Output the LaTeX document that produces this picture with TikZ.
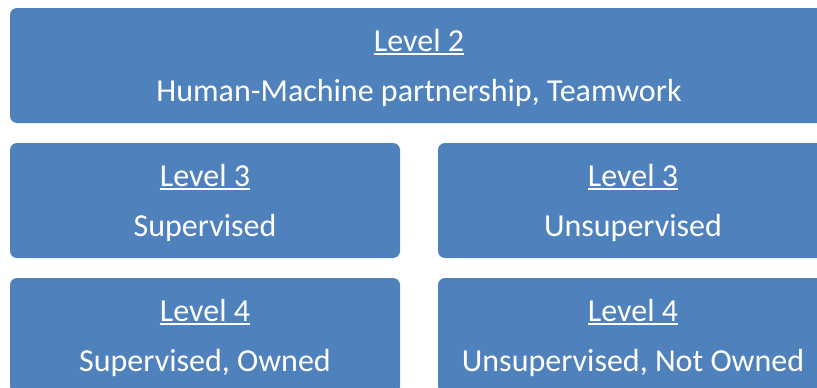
\documentclass[tikz,border=0pt]{standalone}
\usepackage{fontspec}
\setmainfont{Carlito}
\usepackage{xcolor}
\usepackage{tikz}
\definecolor{boxblue}{HTML}{4F81BD}
\newcommand{\lvl}[1]{\setbox0\hbox{#1}\rule{0pt}{27pt}\rlap{\rule[-4pt]{\wd0}{2pt}}\box0}

\begin{document}
\begin{tikzpicture}[x=1pt, y=-1pt]
\useasboundingbox (0,0) rectangle (817,388);
\begin{scope}[every node/.style={rectangle, rounded corners=7pt, fill=boxblue, text=white,
    inner sep=0pt, minimum height=115pt, minimum width=390pt, align=center,
    font=\fontsize{32}{50}\selectfont}]

  \node[minimum width=818pt] (top) at (419,65.5) {\lvl{Level 2}\\Human-Machine partnership, Teamwork};
  \node (sup) at (205,200.5) {\lvl{Level 3}\\Supervised};
  \node (unsup) at (633,200.5) {\lvl{Level 3}\\Unsupervised};
  \node (own) at (205,335.5) {\lvl{Level 4}\\Supervised, Owned};
  \node (notown) at (633,335.5) {\lvl{Level 4}\\Unsupervised, Not Owned};
\end{scope}
\end{tikzpicture}
\end{document}
